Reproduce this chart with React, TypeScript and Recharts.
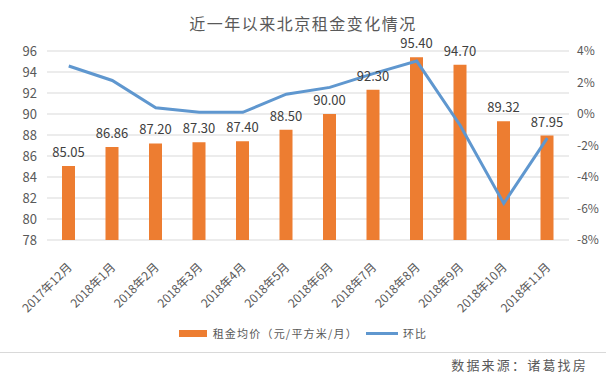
import React from "react";
import {
  ComposedChart,
  Bar,
  Line,
  XAxis,
  YAxis,
  CartesianGrid,
  LabelList,
} from "recharts";

const months = [
  "2017年12月",
  "2018年1月",
  "2018年2月",
  "2018年3月",
  "2018年4月",
  "2018年5月",
  "2018年6月",
  "2018年7月",
  "2018年8月",
  "2018年9月",
  "2018年10月",
  "2018年11月",
];
const rentValues = [85.05, 86.86, 87.2, 87.3, 87.4, 88.5, 90.0, 92.3, 95.4, 94.7, 89.32, 87.95];
const momValues = [3.05, 2.13, 0.39, 0.11, 0.11, 1.26, 1.69, 2.56, 3.36, -0.73, -5.68, -1.53];
const leftTicks = [78, 80, 82, 84, 86, 88, 90, 92, 94, 96];
const rightTicks = [-8, -6, -4, -2, 0, 2, 4];

const data = months.map((m, i) => ({
  month: m,
  rent: rentValues[i],
  mom: momValues[i],
}));

const cjk = '"Noto Sans CJK SC", "Noto Sans", sans-serif';
const textColor = "#595959";

const XTick = (props: any) => {
  const { x, y, payload } = props;
  const ax = x + 4;
  const ay = y + 20;
  return (
    <text
      x={ax}
      y={ay}
      transform={`rotate(-45, ${ax}, ${ay})`}
      textAnchor="end"
      fontSize={12}
      fontFamily={cjk}
      fill={textColor}
    >
      {payload.value}
    </text>
  );
};

export default function App() {
  return (
    <div
      style={{
        position: "absolute",
        left: 0,
        top: 0,
        width: 606,
        height: 373,
        background: "#fff",
        fontFamily: cjk,
      }}
    >
      <div
        style={{
          position: "absolute",
          top: 11,
          left: 0,
          width: 606,
          textAlign: "center",
          fontSize: 16,
          letterSpacing: 1.5,
          color: textColor,
        }}
      >
        近一年以来北京租金变化情况
      </div>

      <ComposedChart
        width={606}
        height={373}
        data={data}
        margin={{ top: 51, right: 0, left: 0, bottom: 73 }}
      >
        <CartesianGrid yAxisId="left" vertical={false} stroke="#d9d9d9" />
        <XAxis
          dataKey="month"
          interval={0}
          axisLine={false}
          tickLine={false}
          height={60}
          tick={<XTick />}
        />
        <YAxis
          yAxisId="left"
          orientation="left"
          width={47}
          domain={[78, 96]}
          ticks={leftTicks}
          interval={0}
          axisLine={false}
          tickLine={false}
          tickMargin={4}
          tick={{ fontSize: 13, fill: textColor, fontFamily: cjk }}
        />
        <YAxis
          yAxisId="right"
          orientation="right"
          width={37}
          domain={[-8, 4]}
          ticks={rightTicks}
          interval={0}
          axisLine={false}
          tickLine={false}
          tickFormatter={(v: number) => `${v}%`}
          tick={{ fontSize: 12, fill: textColor, fontFamily: cjk, textAnchor: "start" }}
        />
        <Bar
          yAxisId="left"
          dataKey="rent"
          fill="#ED7D31"
          barSize={13}
          isAnimationActive={false}
        >
          <LabelList
            dataKey="rent"
            position="top"
            offset={9}
            formatter={(v: any) => Number(v).toFixed(2)}
            style={{ fontSize: 13, fill: "#404040", fontFamily: cjk }}
          />
        </Bar>
        <Line
          yAxisId="right"
          dataKey="mom"
          type="linear"
          stroke="#5F97CF"
          strokeWidth={3}
          dot={false}
          activeDot={false}
          isAnimationActive={false}
        />
      </ComposedChart>

      <div
        style={{
          position: "absolute",
          top: 325,
          left: 0,
          width: 606,
          display: "flex",
          justifyContent: "center",
          alignItems: "center",
          fontSize: 11,
          letterSpacing: 1.2,
          color: textColor,
        }}
      >
        <span style={{ width: 28, height: 7, background: "#ED7D31", marginRight: 6 }} />
        <span>租金均价（元/平方米/月）</span>
        <span style={{ width: 32, height: 3, background: "#5F97CF", margin: "0 5px 0 8px" }} />
        <span>环比</span>
      </div>

      <div
        style={{
          position: "absolute",
          top: 352,
          left: 0,
          width: 606,
          height: 1,
          background: "#d9d9d9",
        }}
      />
      <div
        style={{
          position: "absolute",
          top: 356,
          right: 18,
          fontSize: 13,
          letterSpacing: 2.2,
          lineHeight: "17px",
          color: textColor,
          whiteSpace: "nowrap",
        }}
      >
        数据来源：诸葛找房
      </div>
    </div>
  );
}
